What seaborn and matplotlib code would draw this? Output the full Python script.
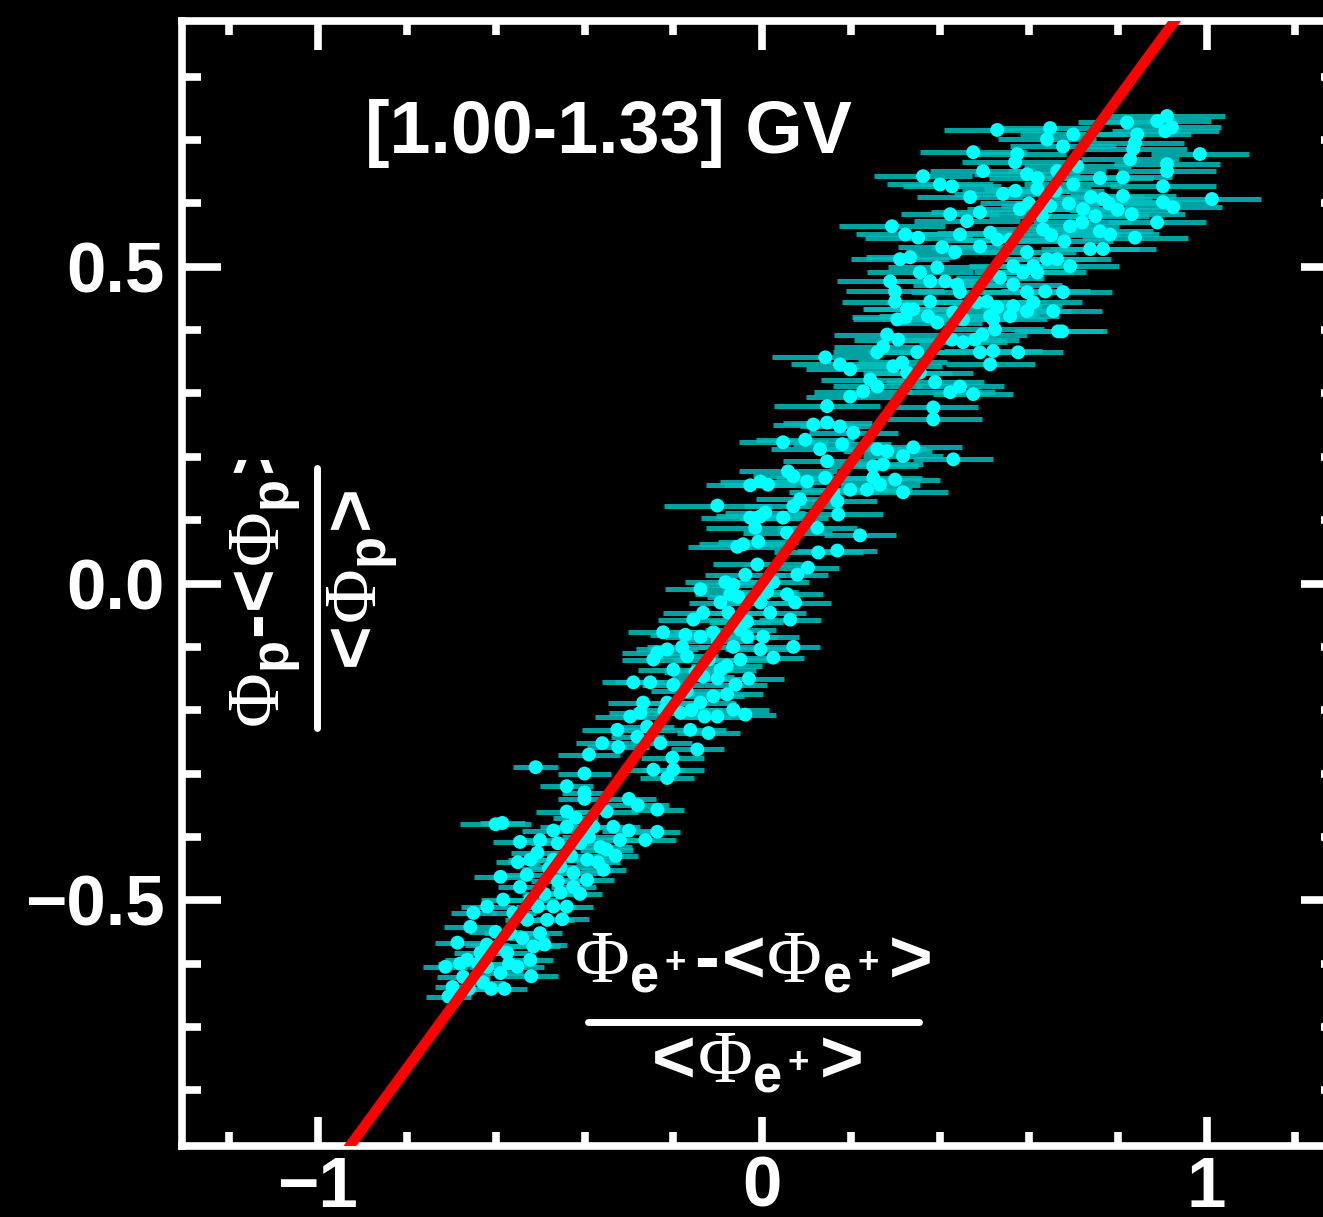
import matplotlib
matplotlib.use("Agg")
import matplotlib.pyplot as plt
import seaborn as sns
from matplotlib.lines import Line2D
from matplotlib.ticker import MultipleLocator
from matplotlib.transforms import Bbox, TransformedBbox

# relative flux deviations: x = positrons, y = protons, rigidity bin [1.00-1.33] GV
# lower band (solar maximum side)
low_x = [-0.51, -0.40, -0.44, -0.40, -0.40, -0.44, -0.60, -0.585, -0.545, -0.35,
         -0.30, -0.28, -0.236, -0.236, -0.263, -0.32, -0.357, -0.394, -0.425, -0.47,
         -0.506, -0.522, -0.50, -0.47, -0.44, -0.41, -0.38, -0.364, -0.335, -0.589,
         -0.545, -0.522, -0.583, -0.619, -0.65, -0.657, -0.686, -0.713, -0.697, -0.706,
         -0.628, -0.634, -0.596, -0.567, -0.529, -0.484, -0.47, -0.522, -0.551, -0.589,
         -0.619, -0.664, -0.673, -0.574, -0.515, -0.50, -0.44, -0.454, -0.425, -0.454,
         -0.394, -0.245, -0.214, -0.20, -0.56, -0.54, -0.49, -0.46, -0.43, -0.39,
         -0.37, -0.48, -0.53, -0.60, -0.62, -0.57, -0.49, -0.45, -0.41, -0.35,
         -0.33, -0.30, -0.42, -0.46, -0.55, -0.64, -0.68, -0.61, -0.66, -0.58,
         -0.52, -0.505]
low_y = [-0.29, -0.30, -0.32, -0.33, -0.34, -0.36, -0.38, -0.378, -0.408, -0.36,
         -0.34, -0.35, -0.357, -0.392, -0.405, -0.405, -0.452, -0.468, -0.479, -0.436,
         -0.425, -0.436, -0.405, -0.39, -0.384, -0.41, -0.384, -0.416, -0.384, -0.463,
         -0.479, -0.499, -0.499, -0.51, -0.52, -0.542, -0.567, -0.605, -0.637, -0.652,
         -0.63, -0.583, -0.573, -0.552, -0.531, -0.531, -0.51, -0.594, -0.605, -0.615,
         -0.605, -0.594, -0.621, -0.583, -0.573, -0.552, -0.51, -0.488, -0.457, -0.447,
         -0.436, -0.294, -0.307, -0.294, -0.52, -0.56, -0.49, -0.47, -0.43, -0.40,
         -0.44, -0.45, -0.46, -0.55, -0.57, -0.60, -0.57, -0.53, -0.49, -0.42,
         -0.43, -0.39, -0.37, -0.41, -0.44, -0.60, -0.60, -0.64, -0.64, -0.64,
         -0.62, -0.51]
low_err = [0.05, 0.06, 0.06, 0.05, 0.06, 0.07, 0.08, 0.05, 0.06, 0.07,
           0.06, 0.07, 0.06, 0.05, 0.07, 0.06, 0.05, 0.06, 0.05, 0.07,
           0.06, 0.05, 0.06, 0.07, 0.06, 0.05, 0.06, 0.07, 0.06, 0.06,
           0.05, 0.06, 0.05, 0.06, 0.05, 0.06, 0.05, 0.05, 0.04, 0.05,
           0.05, 0.06, 0.05, 0.06, 0.05, 0.06, 0.05, 0.05, 0.06, 0.05,
           0.04, 0.05, 0.06, 0.05, 0.06, 0.05, 0.06, 0.05, 0.06, 0.07,
           0.06, 0.07, 0.06, 0.07, 0.05, 0.06, 0.05, 0.06, 0.05, 0.06,
           0.05, 0.06, 0.05, 0.06, 0.05, 0.06, 0.05, 0.06, 0.05, 0.06,
           0.05, 0.06, 0.05, 0.06, 0.05, 0.06, 0.05, 0.04, 0.05, 0.05,
           0.06, 0.05]

# middle-low band
mid_x = [-0.39, -0.36, -0.326, -0.324, -0.297, -0.274, -0.281, -0.202, -0.146, -0.121,
         -0.162, -0.229, -0.259, -0.268, -0.29, -0.252, -0.214, -0.184, -0.139, -0.11,
         -0.079, -0.101, -0.065, -0.038, -0.236, -0.245, -0.223, -0.214, -0.20, -0.169,
         -0.139, -0.11, -0.065, -0.034, -0.004, 0.025, 0.07, 0.002, -0.049, -0.094,
         -0.133, -0.155, -0.133, -0.139, -0.094, -0.076, -0.083, -0.072, -0.054, -0.065,
         -0.038, -0.034, -0.004, 0.018, 0.011, 0.056, 0.063, 0.074, 0.079, 0.025,
         -0.20, -0.17, -0.15, -0.12, -0.10, -0.08, -0.06, -0.18, -0.16, -0.13,
         -0.22, -0.03, -0.05, -0.10, -0.173, -0.049, 0.103]
mid_y = [-0.27, -0.252, -0.231, -0.258, -0.21, -0.204, -0.242, -0.275, -0.262, -0.236,
         -0.231, -0.252, -0.226, -0.188, -0.156, -0.156, -0.188, -0.204, -0.188, -0.178,
         -0.175, -0.21, -0.199, -0.207, -0.109, -0.12, -0.077, -0.104, -0.136, -0.115,
         -0.084, -0.077, -0.10, -0.084, -0.104, -0.117, -0.10, -0.084, -0.12, -0.136,
         -0.147, -0.057, -0.046, -0.009, -0.03, -0.046, 0.002, -0.017, -0.021, -0.002,
         0.014, -0.06, -0.03, -0.046, -0.013, -0.017, -0.057, -0.03, 0.014, 0.002,
         -0.16, -0.17, -0.14, -0.12, -0.15, -0.13, -0.16, -0.10, -0.20, -0.21,
         -0.20, -0.15, -0.06, -0.09, -0.081, -0.073, 0.025]
mid_err = [0.07, 0.06, 0.08, 0.07, 0.08, 0.07, 0.06, 0.07, 0.06, 0.07,
           0.08, 0.07, 0.06, 0.08, 0.07, 0.08, 0.07, 0.06, 0.08, 0.07,
           0.08, 0.07, 0.08, 0.07, 0.08, 0.07, 0.08, 0.07, 0.08, 0.07,
           0.08, 0.09, 0.08, 0.07, 0.08, 0.07, 0.06, 0.08, 0.07, 0.08,
           0.07, 0.08, 0.09, 0.08, 0.07, 0.08, 0.09, 0.08, 0.07, 0.08,
           0.09, 0.08, 0.07, 0.08, 0.07, 0.08, 0.07, 0.08, 0.07, 0.08,
           0.07, 0.08, 0.07, 0.08, 0.07, 0.08, 0.07, 0.08, 0.07, 0.06,
           0.07, 0.08, 0.07, 0.08, 0.08, 0.08, 0.07]

# middle-high band
upmid_x = [-0.101, -0.027, -0.004, 0.013, 0.058, 0.07, 0.101, 0.142, 0.047, 0.097,
           0.115, 0.146, 0.146, 0.13, 0.146, 0.175, 0.18, 0.205, 0.259, 0.281,
           0.317, 0.34, 0.25, 0.272, 0.25, 0.299, 0.265, 0.236, 0.198, 0.16,
           0.169, 0.317, 0.07, 0.085, -0.027, -0.004, 0.007, 0.047, -0.016, 0.056,
           0.124, 0.171, 0.22, -0.056, -0.043, -0.009, 0.126, 0.169, -0.011]
upmid_y = [0.123, 0.155, 0.161, 0.156, 0.177, 0.169, 0.161, 0.167, 0.223, 0.227,
           0.251, 0.28, 0.254, 0.212, 0.193, 0.248, 0.22, 0.238, 0.212, 0.209,
           0.201, 0.215, 0.185, 0.188, 0.167, 0.164, 0.156, 0.148, 0.148, 0.144,
           0.13, 0.144, 0.122, 0.133, 0.104, 0.106, 0.112, 0.104, 0.088, 0.08,
           0.088, 0.109, 0.076, 0.058, 0.062, 0.066, 0.049, 0.052, 0.03]
upmid_err = [0.12, 0.10, 0.09, 0.10, 0.11, 0.09, 0.10, 0.11, 0.10, 0.11,
             0.09, 0.12, 0.10, 0.11, 0.10, 0.09, 0.11, 0.10, 0.11, 0.10,
             0.09, 0.11, 0.10, 0.09, 0.11, 0.10, 0.09, 0.10, 0.11, 0.10,
             0.09, 0.10, 0.11, 0.10, 0.11, 0.10, 0.09, 0.10, 0.11, 0.10,
             0.09, 0.10, 0.08, 0.11, 0.10, 0.09, 0.10, 0.09, 0.10]

# high band
high_x = [0.31, 0.333, 0.355, 0.394, 0.405, 0.434, 0.288, 0.378, 0.412, 0.439,
          0.299, 0.299, 0.378, 0.445, 0.326, 0.34, 0.322, 0.304, 0.373, 0.394,
          0.43, 0.281, 0.306, 0.272, 0.259, 0.142, 0.175, 0.198, 0.295, 0.315,
          0.349, 0.355, 0.326, 0.243, 0.259, 0.227, 0.198, 0.43, 0.385, 0.385,
          0.423, 0.475, 0.445, 0.389, 0.513, 0.49, 0.576, 0.52, 0.452, 0.427,
          0.495, 0.524, 0.479, 0.513, 0.529, 0.565, 0.596, 0.655, 0.666, 0.61,
          0.596, 0.565, 0.535, 0.484, 0.637, 0.587, 0.61, 0.641, 0.565]
high_y = [0.512, 0.515, 0.491, 0.499, 0.531, 0.523, 0.477, 0.477, 0.477, 0.472,
          0.461, 0.445, 0.445, 0.46, 0.433, 0.433, 0.42, 0.417, 0.422, 0.412,
          0.428, 0.393, 0.385, 0.374, 0.365, 0.357, 0.346, 0.338, 0.343, 0.349,
          0.365, 0.333, 0.333, 0.322, 0.311, 0.303, 0.295, 0.196, 0.278, 0.259,
          0.302, 0.299, 0.311, 0.318, 0.346, 0.365, 0.365, 0.367, 0.381, 0.385,
          0.393, 0.401, 0.385, 0.422, 0.436, 0.438, 0.43, 0.43, 0.398, 0.444,
          0.46, 0.472, 0.483, 0.444, 0.461, 0.491, 0.501, 0.512, 0.501]
high_err = [0.11, 0.10, 0.12, 0.11, 0.10, 0.11, 0.12, 0.10, 0.11, 0.10,
            0.11, 0.12, 0.10, 0.11, 0.10, 0.11, 0.12, 0.10, 0.11, 0.10,
            0.11, 0.12, 0.10, 0.11, 0.10, 0.12, 0.11, 0.10, 0.11, 0.10,
            0.11, 0.12, 0.10, 0.11, 0.10, 0.11, 0.10, 0.09, 0.10, 0.11,
            0.10, 0.09, 0.10, 0.11, 0.10, 0.11, 0.10, 0.11, 0.10, 0.11,
            0.10, 0.11, 0.10, 0.11, 0.10, 0.11, 0.10, 0.11, 0.10, 0.11,
            0.10, 0.11, 0.10, 0.11, 0.10, 0.11, 0.10, 0.11, 0.10]

# top band (solar minimum side)
top_x = [0.529, 0.648, 0.70, 0.821, 0.889, 0.911, 0.907, 0.922, 0.844, 0.641,
         0.677, 0.839, 0.835, 0.475, 0.574, 0.569, 0.828, 0.985, 0.911, 0.911,
         0.497, 0.362, 0.40, 0.427, 0.596, 0.664, 0.709, 0.812, 0.902, 0.468,
         0.542, 0.619, 1.012, 0.902, 0.925, 0.812, 0.767, 0.722, 0.648, 0.58,
         0.423, 0.461, 0.49, 0.832, 0.889, 0.292, 0.322, 0.351, 0.445, 0.513,
         0.558, 0.632, 0.693, 0.76, 0.783, 0.839, 0.738, 0.767, 0.693, 0.675,
         0.596, 0.664, 0.619, 0.558, 0.529, 0.49, 0.506, 0.452, 0.52, 0.677,
         0.60, 0.63, 0.66, 0.69, 0.70, 0.65, 0.72, 0.74, 0.62, 0.57,
         0.68, 0.75, 0.78, 0.76, 0.80]
top_y = [0.716, 0.719, 0.709, 0.728, 0.73, 0.738, 0.714, 0.72, 0.709, 0.701,
         0.69, 0.696, 0.686, 0.681, 0.678, 0.665, 0.67, 0.678, 0.662, 0.651,
         0.651, 0.643, 0.63, 0.627, 0.646, 0.651, 0.659, 0.641, 0.627, 0.61,
         0.615, 0.623, 0.607, 0.602, 0.594, 0.612, 0.607, 0.591, 0.596, 0.591,
         0.583, 0.572, 0.586, 0.583, 0.57, 0.564, 0.551, 0.546, 0.551, 0.554,
         0.543, 0.559, 0.564, 0.556, 0.551, 0.546, 0.528, 0.528, 0.501, 0.398,
         0.523, 0.512, 0.491, 0.422, 0.543, 0.532, 0.445, 0.417, 0.417, 0.46,
         0.60, 0.58, 0.62, 0.60, 0.63, 0.55, 0.57, 0.61, 0.64, 0.62,
         0.54, 0.58, 0.60, 0.64, 0.59]
top_err = [0.12, 0.11, 0.12, 0.11, 0.12, 0.13, 0.12, 0.11, 0.12, 0.11,
           0.12, 0.11, 0.12, 0.12, 0.11, 0.12, 0.11, 0.11, 0.12, 0.11,
           0.12, 0.11, 0.12, 0.11, 0.12, 0.11, 0.12, 0.11, 0.12, 0.12,
           0.11, 0.12, 0.11, 0.12, 0.11, 0.12, 0.11, 0.12, 0.11, 0.12,
           0.11, 0.12, 0.11, 0.12, 0.11, 0.12, 0.11, 0.12, 0.11, 0.12,
           0.11, 0.12, 0.11, 0.12, 0.11, 0.12, 0.11, 0.12, 0.11, 0.10,
           0.11, 0.12, 0.11, 0.11, 0.12, 0.11, 0.12, 0.11, 0.12, 0.11,
           0.11, 0.12, 0.11, 0.12, 0.11, 0.12, 0.11, 0.12, 0.11, 0.12,
           0.11, 0.12, 0.11, 0.12, 0.11]

proton_err = 0.008          # vertical error, almost hidden by the markers
fit_slope = 0.957           # linear fit through the origin
fit_x = [-1.4, 1.4]

x_ticks = [-1, 0, 1]
y_ticks = [-0.5, 0.0, 0.5]
bin_label = "[1.00-1.33] GV"

phi_e = low_x + mid_x + upmid_x + high_x + top_x
phi_p = low_y + mid_y + upmid_y + high_y + top_y
phi_e_err = low_err + mid_err + upmid_err + high_err + top_err

sns.set_theme(style="ticks", rc={
    "figure.facecolor": "black", "axes.facecolor": "black",
    "axes.edgecolor": "white", "axes.linewidth": 5.5,
    "xtick.color": "white", "ytick.color": "white",
    "xtick.direction": "in", "ytick.direction": "in",
    "xtick.top": True, "ytick.right": True,
    "xtick.major.size": 21, "xtick.minor.size": 10,
    "ytick.major.size": 28, "ytick.minor.size": 14,
    "xtick.major.width": 5.5, "xtick.minor.width": 5.5,
    "ytick.major.width": 5.5, "ytick.minor.width": 5.5,
    "xtick.major.pad": 7, "ytick.major.pad": 12,
})
plt.rcParams["font.family"] = ["Liberation Sans", "DejaVu Sans"]
plt.rcParams["mathtext.fontset"] = "custom"
plt.rcParams["mathtext.rm"] = "Liberation Serif"
plt.rcParams["mathtext.it"] = "Liberation Serif:italic"
plt.rcParams["mathtext.bf"] = "Liberation Sans:bold"

W, H = 1323, 1217
fig = plt.figure(figsize=(W / 100, H / 100), dpi=100)
ax = fig.add_axes([181.5 / W, (H - 1146) / H, (762 + 1.3 * 444.5 - 181.5) / W, 1125 / H])

ax.errorbar(phi_e, phi_p, xerr=phi_e_err, yerr=proton_err, fmt="none",
            ecolor=(0.0, 0.75, 0.75, 0.85), elinewidth=3.6, capsize=0, zorder=2)
sns.scatterplot(x=phi_e, y=phi_p, color="#00ffff", s=100, edgecolor="none",
                linewidth=0, ax=ax, zorder=3)
sns.lineplot(x=fit_x, y=[fit_slope * v for v in fit_x], color="#ff0000",
             linewidth=7.5, ax=ax, zorder=4)

ax.set_xlim(-1.307, 1.3)
ax.set_ylim(-0.888, 0.888)
ax.set_xticks(x_ticks, labels=[f"{v:d}".replace("-", "\u2212") for v in x_ticks],
              fontsize=51, fontweight="bold", color="white")
ax.set_yticks(y_ticks, labels=[f"{v:.1f}".replace("-", "\u2212") for v in y_ticks],
              fontsize=51, fontweight="bold", color="white")
ax.xaxis.set_minor_locator(MultipleLocator(0.2))
ax.yaxis.set_minor_locator(MultipleLocator(0.1))
ax.set_xlabel("")
ax.set_ylabel("")

# rigidity bin label
fig.text(365 / W, 1 - 153 / H, bin_label, fontsize=53, fontweight="bold",
         color="white", ha="left", va="baseline")

HYPH = "\u2010"
PHI = r"\mathrm{\Phi}"


def deviation(sub):
    num = "$" + PHI + "_{" + sub + "}\\mathbf{" + HYPH + "}\\!\\mathbf{<}\\!" \
          + PHI + "_{" + sub + "}\\!\\mathbf{>}$"
    den = "$\\!\\mathbf{<}\\!" + PHI + "_{" + sub + "}\\!\\mathbf{>}$"
    return num, den


# x label as a fraction
num_e, den_e = deviation(r"\mathbf{e^+}")
fig.text(753 / W, 1 - 982 / H, num_e, fontsize=54, color="white",
         ha="center", va="baseline")
fig.add_artist(Line2D([588 / W, 919 / W], [1 - 1022 / H, 1 - 1022 / H],
                      transform=fig.transFigure, color="white", linewidth=5))
fig.text(756 / W, 1 - 1082 / H, den_e, fontsize=54, color="white",
         ha="center", va="baseline")

# y label as a rotated fraction, numerator clipped at the top as in the original
num_p, den_p = deviation(r"\mathbf{p}")
t = fig.text(280 / W, 1 - 728 / H, num_p, fontsize=54, color="white",
             rotation=90, rotation_mode="anchor", ha="left", va="baseline")
t.set_clip_box(TransformedBbox(Bbox.from_extents(0, 0, 1, 1 - 460 / H), fig.transFigure))
t.set_clip_on(True)
fig.add_artist(Line2D([317 / W, 317 / W], [1 - 468 / H, 1 - 728 / H],
                      transform=fig.transFigure, color="white", linewidth=5))
fig.text(377 / W, 1 - 580 / H, den_p, fontsize=54, color="white",
         rotation=90, rotation_mode="anchor", ha="center", va="baseline")

fig.savefig("out.png", dpi=100, facecolor="black")
